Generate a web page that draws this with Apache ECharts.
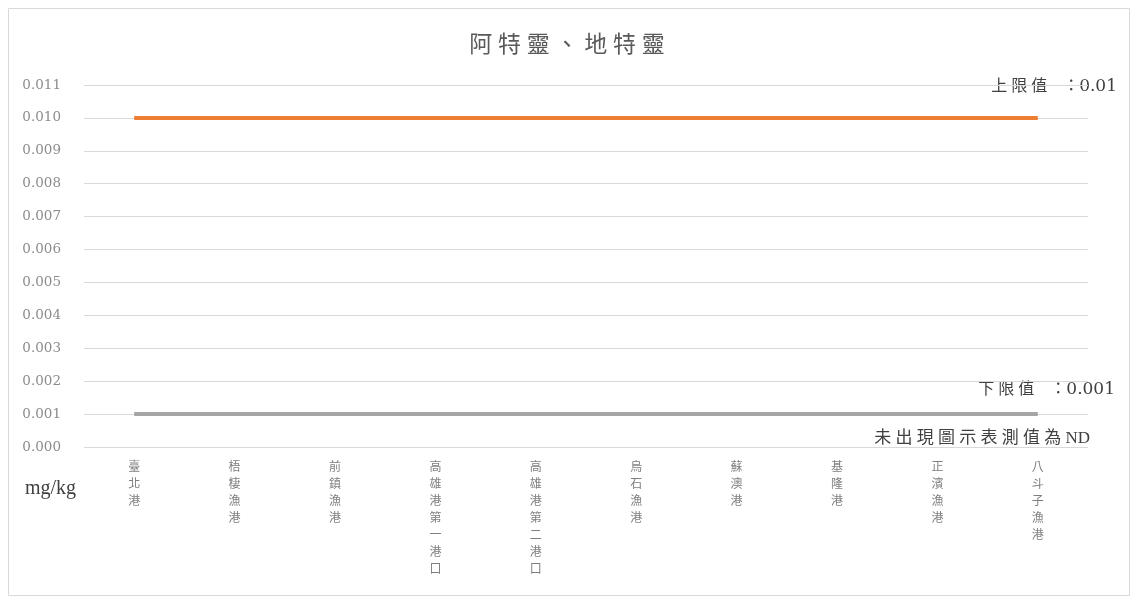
<!DOCTYPE html>
<html>
<head>
<meta charset="utf-8">
<script src="https://cdn.jsdelivr.net/npm/echarts@6/dist/echarts.min.js"></script>
<style>
  html, body { margin: 0; padding: 0; background: #fff; }
  #chart { width: 1134px; height: 596px; }
</style>
</head>
<body>
<div id="chart"></div>
<script>
// Sampling sites along the x axis
const categories = ['臺北港', '梧棲漁港', '前鎮漁港', '高雄港第一港口', '高雄港第二港口',
  '烏石漁港', '蘇澳港', '基隆港', '正濱漁港', '八斗子漁港'];
// Upper and lower limit values (mg/kg)
const upperLimit = [0.01, 0.01, 0.01, 0.01, 0.01, 0.01, 0.01, 0.01, 0.01, 0.01];
const lowerLimit = [0.001, 0.001, 0.001, 0.001, 0.001, 0.001, 0.001, 0.001, 0.001, 0.001];
const yTicks = { min: 0, max: 0.011, interval: 0.001 };

const serif = '"Liberation Serif", "Noto Sans CJK TC", serif';
const wideSerif = '"DejaVu Serif", "Noto Sans CJK TC", serif';
// open up CJK text a little, like a wide Ming-style face
const spaced = s => s.split('').join(' ');

const chart = echarts.init(document.getElementById('chart'));

chart.setOption({
  backgroundColor: '#fff',
  animation: false,
  title: {
    text: spaced('阿特靈、地特靈'),
    left: 'center',
    top: 29,
    textStyle: { fontFamily: serif, fontSize: 23, fontWeight: 'normal', color: '#595959' }
  },
  grid: { left: 84, right: 46, top: 85, bottom: 149 },
  xAxis: {
    type: 'category',
    data: categories,
    boundaryGap: true,
    axisLine: { show: false },
    axisTick: { show: false },
    axisLabel: {
      interval: 0,
      margin: 12,
      color: '#7f7f7f',
      fontFamily: serif,
      fontSize: 12,
      lineHeight: 17,
      verticalAlign: 'top',
      formatter: v => v.split('').join('\n')
    }
  },
  yAxis: {
    type: 'value',
    min: yTicks.min,
    max: yTicks.max,
    interval: yTicks.interval,
    axisLine: { show: false },
    axisTick: { show: false },
    splitLine: { lineStyle: { color: '#d9d9d9', width: 1 } },
    axisLabel: {
      margin: 23,
      color: '#8c8c8c',
      fontFamily: wideSerif,
      fontSize: 13.5,
      formatter: v => v.toFixed(3)
    }
  },
  series: [
    {
      name: '上限值',
      type: 'line',
      data: upperLimit,
      symbol: 'none',
      lineStyle: { color: '#ED7D31', width: 4 }
    },
    {
      name: '下限值',
      type: 'line',
      data: lowerLimit,
      symbol: 'none',
      lineStyle: { color: '#A5A5A5', width: 4 }
    }
  ],
  graphic: [
    {
      type: 'rect',
      left: 6, top: 6,
      shape: { width: 1121, height: 587 },
      style: { fill: 'none', stroke: '#d9d9d9', lineWidth: 1 },
      silent: true
    },
    {
      type: 'text', left: 25, top: 479,
      style: { text: 'mg/kg', fontFamily: serif, fontSize: 20, fill: '#404040' }
    },
    {
      type: 'text', right: 17, top: 78,
      style: {
        text: '{c|' + spaced('上限值') + '    ：}{n|0.01}',
        rich: {
          c: { fontFamily: serif, fontSize: 16, fill: '#404040' },
          n: { fontFamily: wideSerif, fontSize: 17, fill: '#404040' }
        }
      }
    },
    {
      type: 'text', right: 19, top: 381,
      style: {
        text: '{c|' + spaced('下限值') + '    ：}{n|0.001}',
        rich: {
          c: { fontFamily: serif, fontSize: 16, fill: '#404040' },
          n: { fontFamily: wideSerif, fontSize: 17, fill: '#404040' }
        }
      }
    },
    {
      type: 'text', right: 44, top: 430,
      style: { text: spaced('未出現圖示表測值為') + ' ND', fontFamily: serif, fontSize: 17, fill: '#404040' }
    }
  ]
});
</script>
</body>
</html>
